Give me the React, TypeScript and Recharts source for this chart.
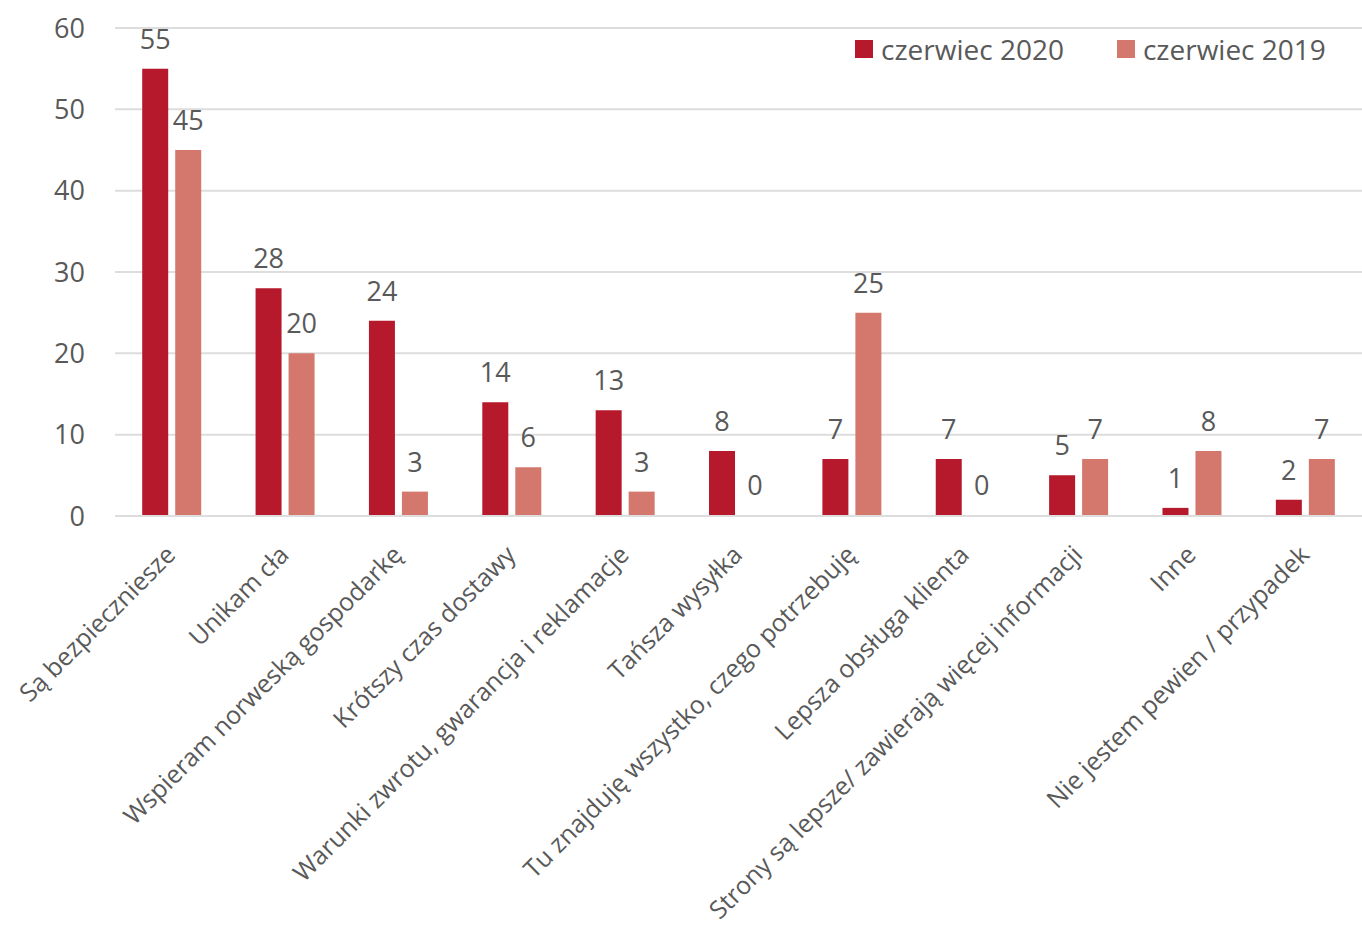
import { Bar, BarChart, CartesianGrid, LabelList, Legend, Rectangle, XAxis, YAxis } from "recharts";

const categories = [
  "Są bezpieczniesze",
  "Unikam cła",
  "Wspieram norweską gospodarkę",
  "Krótszy czas dostawy",
  "Warunki zwrotu, gwarancja i reklamacje",
  "Tańsza wysyłka",
  "Tu znajduję wszystko, czego potrzebuję",
  "Lepsza obsługa klienta",
  "Strony są lepsze/ zawierają więcej informacji",
  "Inne",
  "Nie jestem pewien / przypadek",
];
const june2020 = [55, 28, 24, 14, 13, 8, 7, 7, 5, 1, 2];
const june2019 = [45, 20, 3, 6, 3, 0, 25, 0, 7, 8, 7];
const yTicks = [0, 10, 20, 30, 40, 50, 60];

const data = categories.map((name, i) => ({ name, y2020: june2020[i], y2019: june2019[i] }));

const FONT = "'Open Sans', sans-serif";
const TEXT = "#595959";
const DARK = "#B5192B";
const LIGHT = "#D4786D";

function CategoryTick({ x, y, payload }: any) {
  return (
    <g transform={`translate(${x - 7},${y + 20})`}>
      <text
        transform="rotate(-45)"
        textAnchor="end"
        dy="0.7em"
        fill={TEXT}
        fontSize={25}
        fontFamily={FONT}
      >
        {payload.value}
      </text>
    </g>
  );
}

function LegendContent() {
  const items = [
    { label: "czerwiec 2020", color: DARK },
    { label: "czerwiec 2019", color: LIGHT },
  ];
  return (
    <div style={{ display: "flex", fontFamily: FONT, fontSize: 28, color: TEXT, whiteSpace: "nowrap" }}>
      {items.map((it) => (
        <div key={it.label} style={{ display: "flex", alignItems: "center", marginRight: 53, flexShrink: 0 }}>
          <span style={{ width: 18, height: 18, background: it.color, marginRight: 8, flexShrink: 0 }} />
          <span>{it.label}</span>
        </div>
      ))}
    </div>
  );
}

// zero values keep their label but draw no visible bar
function HideZeroBar(props: any) {
  const { dataKey, payload } = props;
  if (payload && payload[dataKey] === 0) return <g />;
  return <Rectangle {...props} />;
}

export default function App() {
  return (
    <div style={{ position: "absolute", left: 0, top: 0, background: "#fff" }}>
      <BarChart
        width={1362}
        height={926}
        data={data}
        margin={{ top: 28, right: 0, left: 0, bottom: 0 }}
        barGap={7}
        barCategoryGap="24%"
      >
        <CartesianGrid vertical={false} stroke="#DDDDDD" strokeWidth={2} />
        <XAxis
          dataKey="name"
          interval={0}
          height={410}
          tick={<CategoryTick />}
          tickLine={false}
          axisLine={{ stroke: "#DDDDDD", strokeWidth: 2 }}
        />
        <YAxis
          domain={[0, 60]}
          ticks={yTicks}
          width={115}
          axisLine={false}
          tickLine={false}
          tickSize={0}
          tickMargin={30}
          tick={{ fontSize: 27, fill: TEXT, fontFamily: FONT }}
        />
        <Legend
          verticalAlign="middle"
          align="center"
          layout="horizontal"
          content={<LegendContent />}
          wrapperStyle={{ top: 30, left: 855, width: 505, right: "auto", bottom: "auto" }}
        />
        <Bar dataKey="y2020" fill={DARK} isAnimationActive={false}>
          <LabelList dataKey="y2020" position="top" offset={20} fill={TEXT} fontSize={27} fontFamily={FONT} />
        </Bar>
        <Bar dataKey="y2019" fill={LIGHT} isAnimationActive={false} minPointSize={1} shape={HideZeroBar}>
          <LabelList dataKey="y2019" position="top" offset={20} fill={TEXT} fontSize={27} fontFamily={FONT} />
        </Bar>
      </BarChart>
    </div>
  );
}
